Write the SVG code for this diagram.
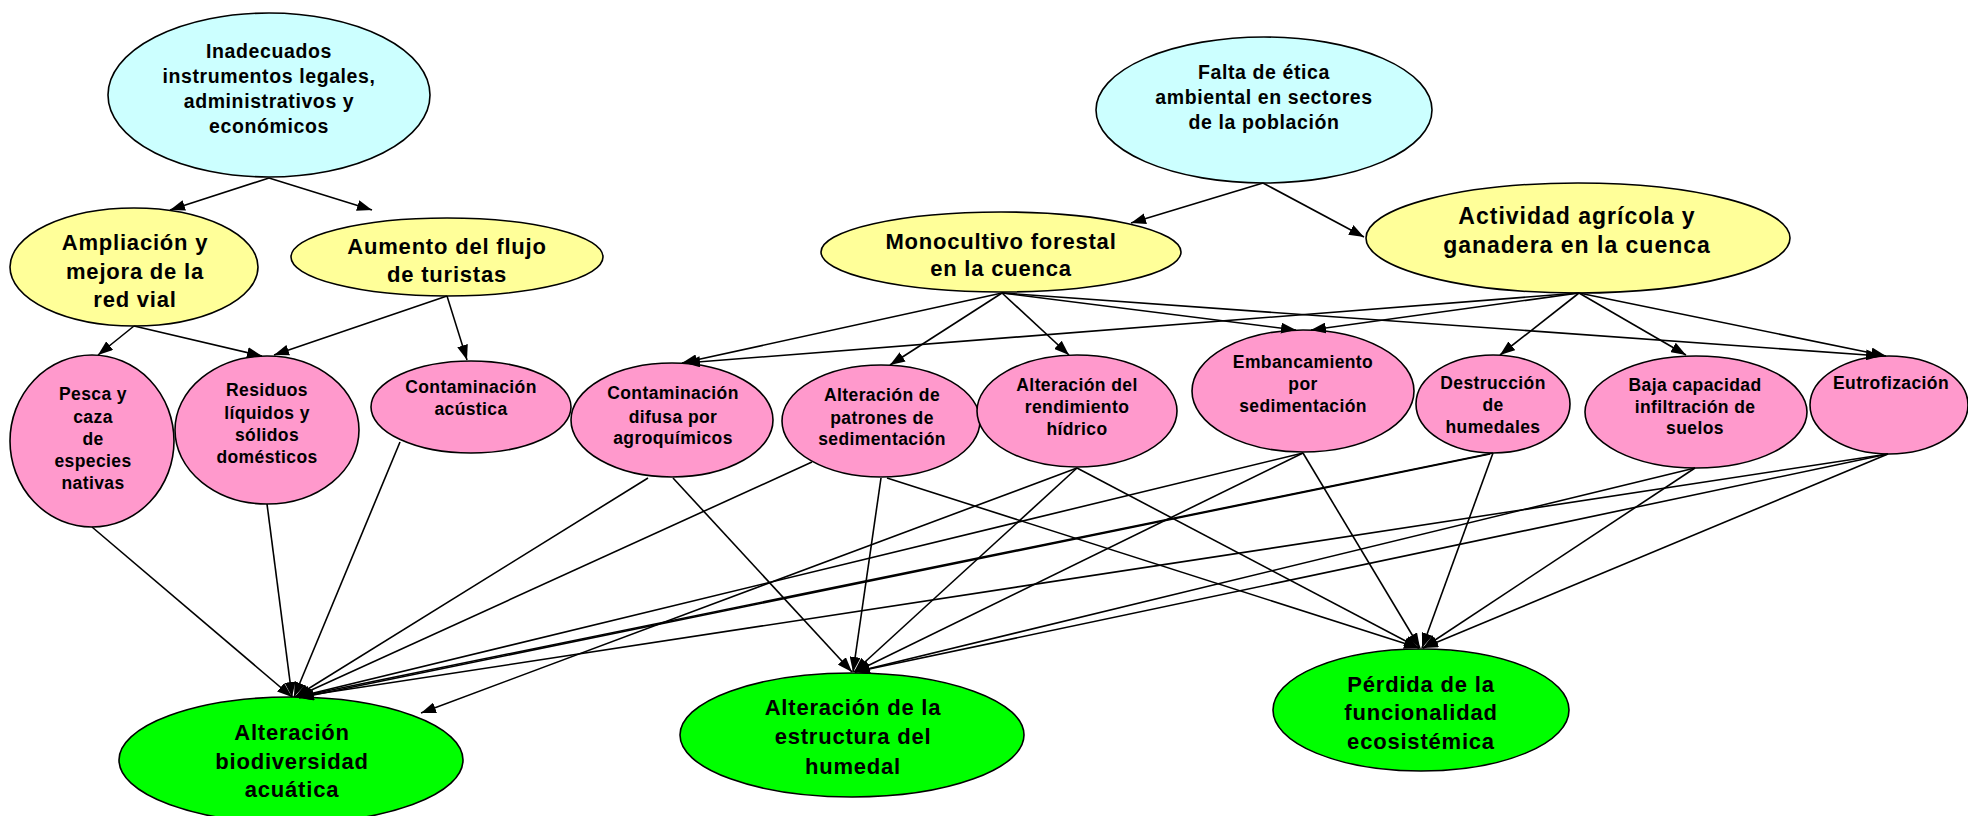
<svg xmlns="http://www.w3.org/2000/svg" width="1968" height="816" viewBox="0 0 1968 816">
<style>
  .nd { stroke: #000; stroke-width: 1.6; }
  .cy { fill: #CCFFFF; }
  .ye { fill: #FFFF99; }
  .pk { fill: #FF99CC; }
  .gr { fill: #00FF00; }
  text { font-family: "Liberation Sans", Arial, sans-serif; font-weight: bold; fill: #000; text-anchor: middle; }
  .tc { font-size: 19.5px; letter-spacing: 0.6px; }
  .ty { font-size: 22px; letter-spacing: 0.8px; }
  .ta { font-size: 23px; letter-spacing: 1px; }
  .tp { font-size: 17.5px; letter-spacing: 0.4px; }
  .tg { font-size: 22px; letter-spacing: 0.8px; }
  .cn line { stroke: #000; stroke-width: 1.6; marker-end: url(#ah); }
</style>
<defs>
  <marker id="ah" markerWidth="15" markerHeight="11" refX="15" refY="5.5" orient="auto" markerUnits="userSpaceOnUse">
    <path d="M0,0 L15,5.5 L0,11 z" fill="#000"/>
  </marker>
</defs>
<rect width="1968" height="816" fill="#fff"/>

<g id="nodes">
  <g id="n_inadecuados">
    <ellipse class="nd cy" cx="269" cy="95" rx="161" ry="82"/>
    <text class="tc" x="269" y="58">Inadecuados</text>
    <text class="tc" x="269" y="83">instrumentos legales,</text>
    <text class="tc" x="269" y="108">administrativos y</text>
    <text class="tc" x="269" y="133">económicos</text>
  </g>
  <g id="n_falta">
    <ellipse class="nd cy" cx="1264" cy="110" rx="168" ry="73"/>
    <text class="tc" x="1264" y="79">Falta de ética</text>
    <text class="tc" x="1264" y="104">ambiental en sectores</text>
    <text class="tc" x="1264" y="129">de la población</text>
  </g>
  <g id="n_ampliacion">
    <ellipse class="nd ye" cx="134" cy="267" rx="124" ry="59"/>
    <text class="ty" x="135" y="250">Ampliación y</text>
    <text class="ty" x="135" y="279">mejora de la</text>
    <text class="ty" x="135" y="307">red vial</text>
  </g>
  <g id="n_aumento">
    <ellipse class="nd ye" cx="447" cy="257" rx="156" ry="39"/>
    <text class="ty" x="447" y="254">Aumento del flujo</text>
    <text class="ty" x="447" y="282">de turistas</text>
  </g>
  <g id="n_monocultivo">
    <ellipse class="nd ye" cx="1001" cy="252" rx="180" ry="40"/>
    <text class="ty" x="1001" y="249">Monocultivo forestal</text>
    <text class="ty" x="1001" y="276">en la cuenca</text>
  </g>
  <g id="n_actividad">
    <ellipse class="nd ye" cx="1578" cy="238" rx="212" ry="55"/>
    <text class="ta" x="1577" y="224">Actividad agrícola y</text>
    <text class="ta" x="1577" y="253">ganadera en la cuenca</text>
  </g>
  <g id="n_pesca">
    <ellipse class="nd pk" cx="92" cy="441" rx="82" ry="86"/>
    <text class="tp" x="93" y="400">Pesca y</text>
    <text class="tp" x="93" y="423">caza</text>
    <text class="tp" x="93" y="445">de</text>
    <text class="tp" x="93" y="467">especies</text>
    <text class="tp" x="93" y="489">nativas</text>
  </g>
  <g id="n_residuos">
    <ellipse class="nd pk" cx="267" cy="430" rx="92" ry="74"/>
    <text class="tp" x="267" y="396">Residuos</text>
    <text class="tp" x="267" y="419">líquidos y</text>
    <text class="tp" x="267" y="441">sólidos</text>
    <text class="tp" x="267" y="463">domésticos</text>
  </g>
  <g id="n_acustica">
    <ellipse class="nd pk" cx="471" cy="407" rx="100" ry="46"/>
    <text class="tp" x="471" y="393">Contaminación</text>
    <text class="tp" x="471" y="415">acústica</text>
  </g>
  <g id="n_difusa">
    <ellipse class="nd pk" cx="672" cy="420" rx="101" ry="57"/>
    <text class="tp" x="673" y="399">Contaminación</text>
    <text class="tp" x="673" y="423">difusa por</text>
    <text class="tp" x="673" y="444">agroquímicos</text>
  </g>
  <g id="n_patrones">
    <ellipse class="nd pk" cx="881" cy="421" rx="99" ry="56"/>
    <text class="tp" x="882" y="401">Alteración de</text>
    <text class="tp" x="882" y="424">patrones de</text>
    <text class="tp" x="882" y="445">sedimentación</text>
  </g>
  <g id="n_rendimiento">
    <ellipse class="nd pk" cx="1077" cy="411" rx="100" ry="56"/>
    <text class="tp" x="1077" y="391">Alteración del</text>
    <text class="tp" x="1077" y="413">rendimiento</text>
    <text class="tp" x="1077" y="435">hídrico</text>
  </g>
  <g id="n_embancamiento">
    <ellipse class="nd pk" cx="1303" cy="391" rx="111" ry="61"/>
    <text class="tp" x="1303" y="368">Embancamiento</text>
    <text class="tp" x="1303" y="390">por</text>
    <text class="tp" x="1303" y="412">sedimentación</text>
  </g>
  <g id="n_destruccion">
    <ellipse class="nd pk" cx="1493" cy="404" rx="77" ry="49"/>
    <text class="tp" x="1493" y="389">Destrucción</text>
    <text class="tp" x="1493" y="411">de</text>
    <text class="tp" x="1493" y="433">humedales</text>
  </g>
  <g id="n_baja">
    <ellipse class="nd pk" cx="1696" cy="412" rx="111" ry="56"/>
    <text class="tp" x="1695" y="391">Baja capacidad</text>
    <text class="tp" x="1695" y="413">infiltración de</text>
    <text class="tp" x="1695" y="434">suelos</text>
  </g>
  <g id="n_eutrofizacion">
    <ellipse class="nd pk" cx="1889" cy="405" rx="79" ry="49"/>
    <text class="tp" x="1891" y="389">Eutrofización</text>
  </g>
  <g id="n_biodiversidad">
    <ellipse class="nd gr" cx="291" cy="760" rx="172" ry="63"/>
    <text class="tg" x="292" y="740">Alteración</text>
    <text class="tg" x="292" y="769">biodiversidad</text>
    <text class="tg" x="292" y="797">acuática</text>
  </g>
  <g id="n_estructura">
    <ellipse class="nd gr" cx="852" cy="735" rx="172" ry="62"/>
    <text class="tg" x="853" y="715">Alteración de la</text>
    <text class="tg" x="853" y="744">estructura del</text>
    <text class="tg" x="853" y="774">humedal</text>
  </g>
  <g id="n_perdida">
    <ellipse class="nd gr" cx="1421" cy="710" rx="148" ry="61"/>
    <text class="tg" x="1421" y="692">Pérdida de la</text>
    <text class="tg" x="1421" y="720">funcionalidad</text>
    <text class="tg" x="1421" y="749">ecosistémica</text>
  </g>
</g>

<g id="connectors" class="cn">
  <line x1="269" y1="178" x2="170" y2="210"/>
  <line x1="269" y1="178" x2="372" y2="210"/>
  <line x1="1263" y1="183" x2="1131" y2="223"/>
  <line x1="1263" y1="183" x2="1364" y2="237"/>
  <line x1="134" y1="326" x2="98" y2="355"/>
  <line x1="134" y1="326" x2="262" y2="356"/>
  <line x1="447" y1="296" x2="274" y2="355"/>
  <line x1="447" y1="296" x2="467" y2="360"/>
  <line x1="1002" y1="293" x2="682" y2="363"/>
  <line x1="1002" y1="293" x2="890" y2="365"/>
  <line x1="1002" y1="293" x2="1069" y2="355"/>
  <line x1="1002" y1="293" x2="1296" y2="330"/>
  <line x1="1002" y1="293" x2="1881" y2="356"/>
  <line x1="1579" y1="293" x2="685" y2="363"/>
  <line x1="1579" y1="293" x2="1311" y2="330"/>
  <line x1="1579" y1="293" x2="1500" y2="355"/>
  <line x1="1579" y1="293" x2="1686" y2="355"/>
  <line x1="1579" y1="293" x2="1886" y2="356"/>
  <line x1="92" y1="527" x2="292" y2="697"/>
  <line x1="267" y1="504" x2="292" y2="697"/>
  <line x1="400" y1="442" x2="294" y2="697"/>
  <line x1="648" y1="478" x2="295" y2="697"/>
  <line x1="812" y1="462" x2="296" y2="697"/>
  <line x1="1303" y1="453" x2="297" y2="697"/>
  <line x1="1493" y1="453" x2="297" y2="697"/>
  <line x1="1490" y1="454" x2="299" y2="698"/>
  <line x1="1888" y1="454" x2="297" y2="697"/>
  <line x1="1077" y1="468" x2="421" y2="713"/>
  <line x1="673" y1="478" x2="852" y2="672"/>
  <line x1="881" y1="478" x2="853" y2="672"/>
  <line x1="1077" y1="468" x2="854" y2="672"/>
  <line x1="1303" y1="453" x2="855" y2="672"/>
  <line x1="1695" y1="468" x2="855" y2="672"/>
  <line x1="1888" y1="454" x2="855" y2="672"/>
  <line x1="887" y1="478" x2="1419" y2="648"/>
  <line x1="1077" y1="468" x2="1419" y2="648"/>
  <line x1="1303" y1="453" x2="1420" y2="648"/>
  <line x1="1493" y1="453" x2="1422" y2="648"/>
  <line x1="1695" y1="468" x2="1423" y2="648"/>
  <line x1="1888" y1="454" x2="1423" y2="648"/>
</g>
</svg>
